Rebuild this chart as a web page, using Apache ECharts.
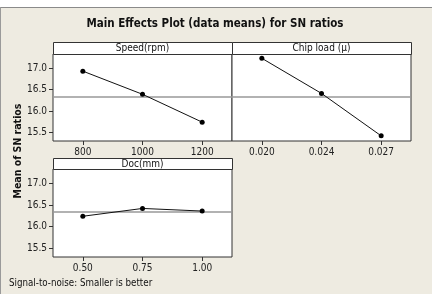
<!DOCTYPE html>
<html>
<head>
<meta charset="utf-8">
<script src="https://cdn.jsdelivr.net/npm/echarts@6/dist/echarts.min.js"></script>
<style>
  html, body { margin: 0; padding: 0; background: #fff; }
  #chart { width: 437px; height: 294px; }
</style>
</head>
<body>
<div id="chart"></div>
<script>
// data
const speedCats = ['800', '1000', '1200']
const speedVals = [16.93, 16.39, 15.74]
const chipCats = ['0.020', '0.024', '0.027']
const chipVals = [17.23, 16.41, 15.42]
const docCats = ['0.50', '0.75', '1.00']
const docVals = [16.24, 16.42, 16.36]
const yTicks = [15.5, 16.0, 16.5, 17.0]
const refMean = 16.34
const panelNames = ['Speed(rpm)', 'Chip load (\u03bc)', 'Doc(mm)']

const font = 'DejaVu Sans Condensed'
const bg = '#eeebe1'

const grids = [
  { left: 53, top: 54, width: 179, height: 87 },
  { left: 232, top: 54, width: 179, height: 87 },
  { left: 53, top: 169, width: 179, height: 88 }
]
const headers = [
  { x: 53, y: 42, w: 179, h: 12 },
  { x: 232, y: 42, w: 179, h: 12 },
  { x: 53, y: 158, w: 179, h: 11 }
]

function xAxis (i, cats) {
  return {
    type: 'category', gridIndex: i, data: cats, boundaryGap: true,
    axisLine: { show: false },
    axisTick: { show: true, alignWithLabel: true, length: 4, lineStyle: { color: '#333' } },
    axisLabel: { color: '#222', fontFamily: font, fontSize: 10, margin: 6 }
  }
}

function yAxis (i, labels) {
  return {
    type: 'value', gridIndex: i, min: 15.3, max: 17.33,
    splitLine: { show: false },
    axisLine: { show: false },
    axisTick: { show: labels, length: 4, customValues: yTicks, lineStyle: { color: '#333' } },
    axisLabel: {
      show: labels, customValues: yTicks, color: '#222', fontFamily: font, fontSize: 10, margin: 6,
      formatter: v => v.toFixed(1)
    }
  }
}

function series (i, vals) {
  return {
    type: 'line', xAxisIndex: i, yAxisIndex: i, data: vals,
    symbol: 'circle', symbolSize: 5,
    itemStyle: { color: '#000' },
    lineStyle: { color: '#111', width: 1 },
    markLine: {
      silent: true, symbol: 'none', label: { show: false },
      lineStyle: { color: '#999', width: 1.5, type: 'solid' },
      data: [{ yAxis: refMean }]
    },
    z: 5
  }
}

const graphics = [
  { type: 'rect', shape: { x: 0, y: 7, width: 432, height: 287 }, style: { fill: bg }, z: -10 },
  { type: 'line', shape: { x1: 0, y1: 7.5, x2: 432, y2: 7.5 }, style: { stroke: '#8a8a8a', lineWidth: 1 }, z: -9 },
  { type: 'line', shape: { x1: 0.5, y1: 7, x2: 0.5, y2: 294 }, style: { stroke: '#9a9a9a', lineWidth: 1 }, z: -9 }
]
headers.forEach((h, i) => {
  graphics.push({
    type: 'rect', shape: { x: h.x + 0.5, y: h.y + 0.5, width: h.w, height: h.h },
    style: { fill: '#fff', stroke: '#333', lineWidth: 1 }, z: 10
  })
  graphics.push({
    type: 'text', x: h.x + h.w / 2, y: h.y + h.h / 2 + 0.5,
    style: { text: panelNames[i], fill: '#111', font: '10px "' + font + '"', align: 'center', verticalAlign: 'middle' },
    z: 11
  })
})
graphics.push({
  type: 'text', x: 215, y: 24,
  style: { text: 'Main Effects Plot (data means) for SN ratios', fill: '#111', font: 'bold 11.5px "' + font + '"', align: 'center', verticalAlign: 'middle' }
})
graphics.push({
  type: 'text', x: 18, y: 151, rotation: Math.PI / 2,
  style: { text: 'Mean of SN ratios', fill: '#111', font: 'bold 10.5px "' + font + '"', align: 'center', verticalAlign: 'middle' }
})
graphics.push({
  type: 'text', x: 9, y: 283,
  style: { text: 'Signal-to-noise: Smaller is better', fill: '#111', font: '9.7px "' + font + '"', align: 'left', verticalAlign: 'middle' }
})

const option = {
  animation: false,
  backgroundColor: '#fff',
  grid: grids.map(g => Object.assign({ show: true, backgroundColor: '#fff', borderColor: '#333', borderWidth: 1 }, g)),
  xAxis: [xAxis(0, speedCats), xAxis(1, chipCats), xAxis(2, docCats)],
  yAxis: [yAxis(0, true), yAxis(1, false), yAxis(2, true)],
  series: [series(0, speedVals), series(1, chipVals), series(2, docVals)],
  graphic: graphics
}

echarts.init(document.getElementById('chart')).setOption(option)
</script>
</body>
</html>
